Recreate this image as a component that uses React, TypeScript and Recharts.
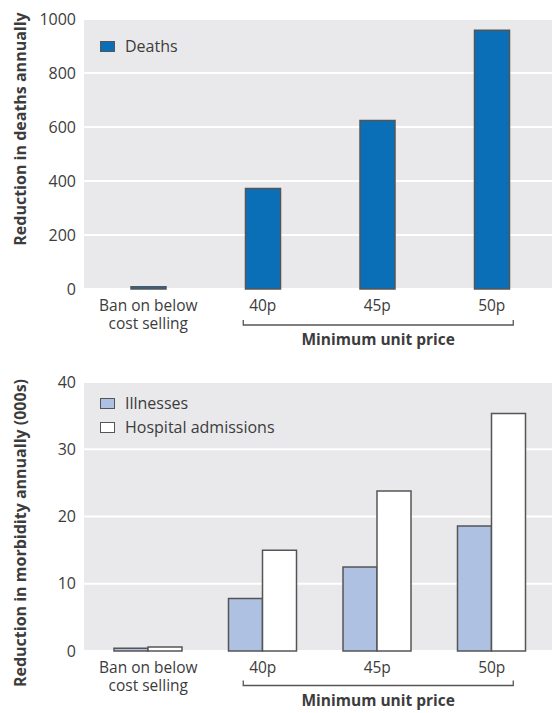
import React from "react";
import { BarChart, Bar, XAxis, YAxis, CartesianGrid, Legend } from "recharts";

const categories = ["Ban on below cost selling", "40p", "45p", "50p"];
const deaths = [8, 372, 624, 958];
const illnesses = [0.4, 7.8, 12.5, 18.6];
const admissions = [0.6, 15.0, 23.8, 35.3];
const deathTicks = [0, 200, 400, 600, 800, 1000];
const morbidityTicks = [0, 10, 20, 30, 40];
const morbidityOrder = ["Illnesses", "Hospital admissions"];

const deathData = categories.map((name, i) => ({ name, deaths: deaths[i] }));
const morbidityData = categories.map((name, i) => ({
  name,
  illnesses: illnesses[i],
  admissions: admissions[i],
}));

const FONT = "'Open Sans', sans-serif";
const TEXT = "#3c3c3c";
const EDGE = "#555555";

function PriceTick(props: any) {
  const { x, y, payload, bracketDy } = props;
  const v = payload.value as string;
  const lines = v.startsWith("Ban") ? ["Ban on below", "cost selling"] : [v];
  const by = y + bracketDy;
  return (
    <g fontFamily={FONT}>
      <text x={x} y={y + 22} textAnchor="middle" fontSize={15.5} fill={TEXT}>
        {lines.map((l, i) => (
          <tspan key={i} x={x} dy={i === 0 ? 0 : 18}>
            {l}
          </tspan>
        ))}
      </text>
      {v === "45p" && (
        <g>
          <path
            d={`M${x - 134},${by - 5} V${by} H${x + 136} V${by - 5}`}
            fill="none"
            stroke={EDGE}
            strokeWidth={1.3}
          />
          <text x={x + 1} y={by + 20} textAnchor="middle" fontSize={15.5} fontWeight="bold" fill={TEXT}>
            Minimum unit price
          </text>
        </g>
      )}
    </g>
  );
}

function SideLabel({ text, cy }: { text: string; cy: number }) {
  return (
    <text
      x={20}
      y={cy}
      transform={`rotate(-90 20 ${cy})`}
      textAnchor="middle"
      dominantBaseline="central"
      fontFamily={FONT}
      fontSize={16}
      fontWeight="bold"
      fill={TEXT}
    >
      {text}
    </text>
  );
}

function LegendBox(props: any) {
  const { payload, order } = props;
  const items = [...(payload || [])];
  if (order) items.sort((a: any, b: any) => order.indexOf(a.value) - order.indexOf(b.value));
  return (
    <div style={{ fontFamily: FONT, fontSize: 16, color: TEXT }}>
      {items.map((p: any, i: number) => (
        <div key={i} style={{ display: "flex", alignItems: "center", height: 24 }}>
          <span
            style={{
              display: "inline-block",
              width: 13,
              height: 9,
              border: `1.5px solid ${EDGE}`,
              background: p.payload?.fill ?? p.color,
              marginRight: 10,
            }}
          />
          <span>{p.value}</span>
        </div>
      ))}
    </div>
  );
}

export default function App() {
  return (
    <div style={{ position: "absolute", left: 0, top: 0, width: 552, height: 713, background: "#fff" }}>
      <BarChart width={552} height={355} data={deathData} margin={{ top: 19, right: 0, bottom: 0, left: 0 }}>
        <CartesianGrid vertical={false} stroke="#ffffff" strokeWidth={2} fill="#e9e9eb" />
        <XAxis
          dataKey="name"
          height={66}
          axisLine={false}
          tickLine={false}
          tickSize={0}
          tickMargin={0}
          interval={0}
          padding={{ left: 7, right: 3 }}
          tick={<PriceTick bracketDy={36} />}
        />
        <YAxis
          width={84}
          domain={[0, 1000]}
          ticks={deathTicks}
          interval={0}
          axisLine={false}
          tickLine={false}
          tick={{ fontSize: 16, fill: TEXT, fontFamily: FONT }}
          label={<SideLabel text="Reduction in deaths annually" cy={129} />}
        />
        <Legend
          layout="vertical"
          align="center"
          verticalAlign="middle"
          content={<LegendBox />}
          wrapperStyle={{ top: 34, left: 100, width: 300 }}
        />
        <Bar
          dataKey="deaths"
          name="Deaths"
          fill="#0b6fb8"
          stroke={EDGE}
          strokeWidth={1.5}
          barSize={35}
          isAnimationActive={false}
        />
      </BarChart>
      <div style={{ position: "absolute", left: 0, top: 355 }}>
        <BarChart
          width={552}
          height={358}
          data={morbidityData}
          barGap={0}
          margin={{ top: 27, right: 0, bottom: 0, left: 0 }}
        >
          <CartesianGrid vertical={false} stroke="#ffffff" strokeWidth={2} fill="#e9e9eb" />
          <XAxis
            dataKey="name"
            height={62}
            axisLine={false}
            tickLine={false}
            tickSize={0}
            tickMargin={0}
            interval={0}
            padding={{ left: 7, right: 3 }}
            tick={<PriceTick bracketDy={34.5} />}
          />
          <YAxis
            width={84}
            domain={[0, 40]}
            ticks={morbidityTicks}
            interval={0}
            axisLine={false}
            tickLine={false}
            tick={{ fontSize: 16, fill: TEXT, fontFamily: FONT }}
            label={<SideLabel text="Reduction in morbidity annually (000s)" cy={178} />}
          />
          <Legend
            layout="vertical"
            align="center"
            verticalAlign="middle"
            content={<LegendBox order={morbidityOrder} />}
            wrapperStyle={{ top: 36, left: 100, width: 300 }}
          />
          <Bar
            dataKey="illnesses"
            name="Illnesses"
            fill="#aec1e2"
            stroke={EDGE}
            strokeWidth={1.5}
            barSize={34}
            isAnimationActive={false}
          />
          <Bar
            dataKey="admissions"
            name="Hospital admissions"
            fill="#ffffff"
            stroke={EDGE}
            strokeWidth={1.5}
            barSize={34}
            isAnimationActive={false}
          />
        </BarChart>
      </div>
    </div>
  );
}
